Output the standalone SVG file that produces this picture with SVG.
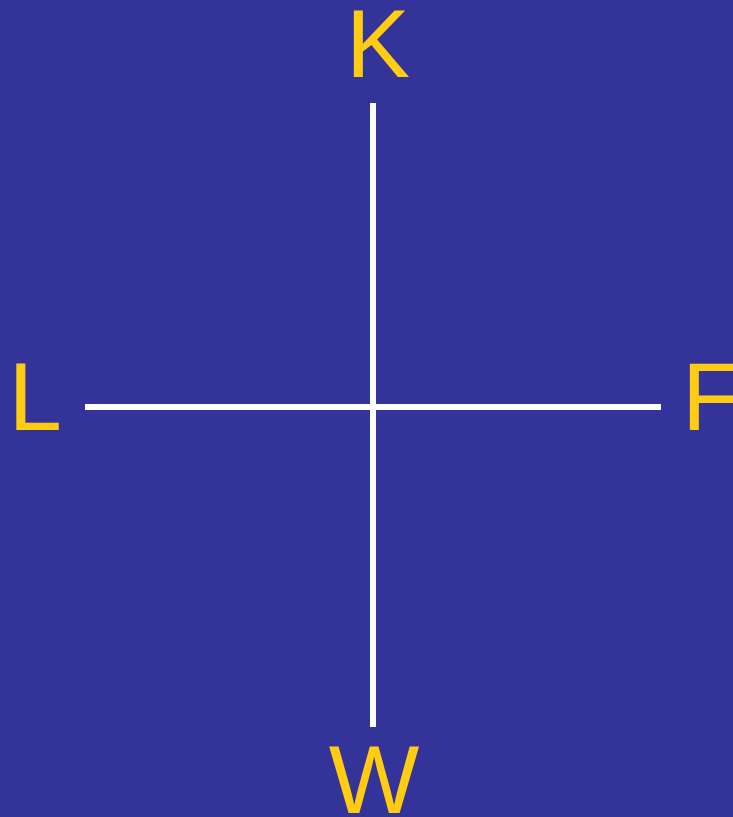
<svg xmlns="http://www.w3.org/2000/svg" width="733" height="817" viewBox="0 0 733 817">
<style>
.lbl{font-family:"Liberation Sans",Arial,sans-serif;font-size:96px;fill:#FFCC11}
.ln{stroke:#FFFFFF;stroke-width:6;fill:none}
</style>
<rect width="733" height="817" fill="#333399"/>
<g id="connectors">
<line class="ln" x1="373" y1="103" x2="373" y2="727"/>
<line class="ln" x1="85" y1="407" x2="661" y2="407"/>
</g>
<g id="K"><text class="lbl" x="378" y="77" text-anchor="middle">K</text></g>
<g id="L"><text class="lbl" x="8.5" y="430">L</text></g>
<g id="F"><text class="lbl" x="682" y="430">F</text></g>
<g id="W"><text class="lbl" x="374" y="813" text-anchor="middle">W</text></g>
</svg>
